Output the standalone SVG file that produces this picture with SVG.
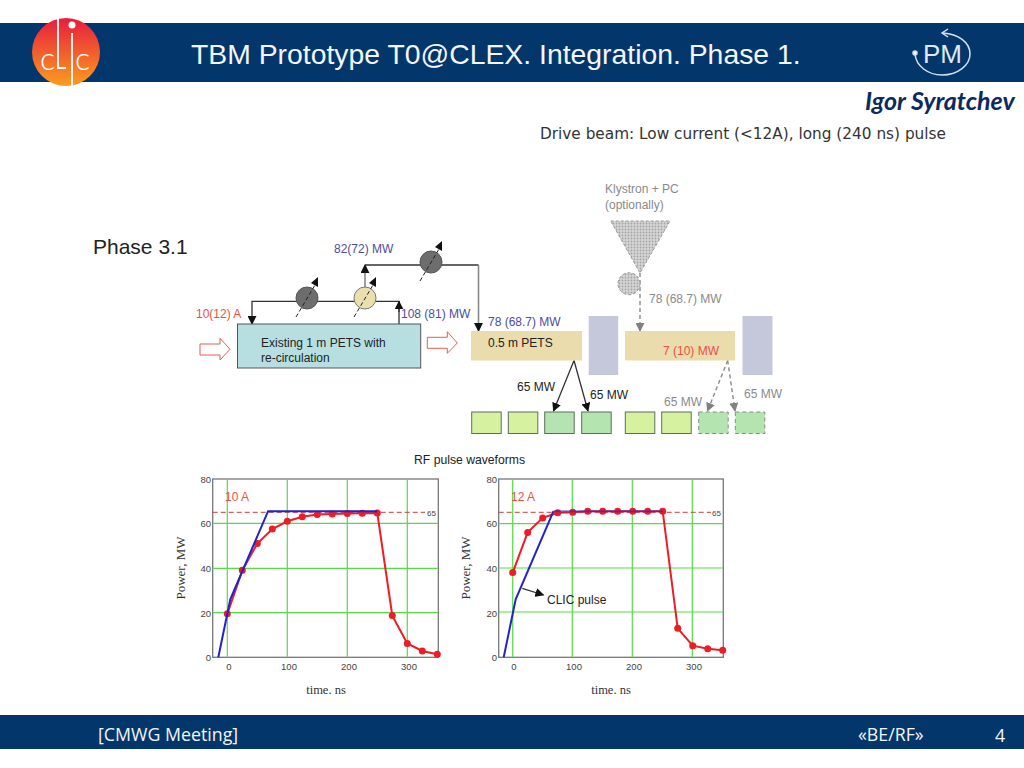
<svg xmlns="http://www.w3.org/2000/svg" xmlns:xlink="http://www.w3.org/1999/xlink" width="1024" height="768" viewBox="0 0 1024 768">
<style>
text{font-family:"Liberation Sans",Arial,sans-serif;font-size:12px}
.band{fill:#03376b}
.ft{font-family:"Open Sans",sans-serif;font-size:17.8px;fill:#f2f5f9}
.bl{fill:#4d4d9e}.rd{fill:#ee5040}.gr{fill:#8a8a8a}.bk{fill:#222}
.c{fill:none;stroke:#333;stroke-width:1.3}
.cg{fill:none;stroke:#8a8a8a;stroke-width:1.4;stroke-dasharray:4 3}
.cv{fill:none;stroke:#888;stroke-width:1.6}
.hollow{fill:#fff;stroke:#e0604f;stroke-width:1}
.sand{fill:#ebdcae}.rail{fill:#c5c8db}
.lg{fill:#d6f2a0;stroke:#5c6f5c;stroke-width:1}
.mg{fill:#b4e4b0;stroke:#5c6f5c;stroke-width:1}
.dg{fill:#b4e4b0;stroke:#8a8a8a;stroke-width:1;stroke-dasharray:4 3}
.gl{stroke:#55dd44;stroke-width:1.2;fill:none}
.frame{fill:#fff;stroke:#777;stroke-width:1.3}
.tick{font-size:9.5px;fill:#444}
.ser{font-family:"Liberation Serif",serif;fill:#333}
.ref{stroke:#d43a3a;stroke-width:1;stroke-dasharray:5 3;fill:none}
.rl{fill:none;stroke:#ee1c25;stroke-width:2}
.dots circle{fill:#ee1c25}
.blu{fill:none;stroke:#2323cc;stroke-width:2}
.sw{stroke:#222;stroke-width:1;stroke-dasharray:4 2.5;fill:none}
</style>
<defs>
<linearGradient id="lg1" x1="0" y1="0" x2="0" y2="1"><stop offset="0" stop-color="#e71d3e"/><stop offset="1" stop-color="#fb9d1e"/></linearGradient>
<pattern id="dots" width="3" height="3" patternUnits="userSpaceOnUse"><rect width="3" height="3" fill="#d6d6d6"/><circle cx="1.5" cy="1.5" r="0.9" fill="#a4a4a4"/></pattern>
<marker id="ab" viewBox="0 0 10 10" refX="9" refY="5" markerWidth="9" markerHeight="9" markerUnits="userSpaceOnUse" orient="auto"><path d="M0,0L10,5L0,10z" fill="#111"/></marker>
<marker id="ag" viewBox="0 0 10 10" refX="9" refY="5" markerWidth="9" markerHeight="9" markerUnits="userSpaceOnUse" orient="auto"><path d="M0,0L10,5L0,10z" fill="#808080"/></marker>
<g id="sw"><line class="sw" x1="-11" y1="19" x2="8" y2="-13"/><path d="M11,-21L4,-15L11,-11z" fill="#111"/></g>
</defs>
<rect width="1024" height="768" fill="#fff"/>

<g id="header">
<rect class="band" x="0" y="23" width="1024" height="59"/>
<text x="191" y="64" style="font-size:28.35px" fill="#f4f6fa">TBM Prototype T0@CLEX. Integration. Phase 1.</text>
</g>
<g id="clic-logo">
<circle cx="66" cy="52" r="34" fill="url(#lg1)"/>
<text x="40" y="70" style="font-size:32px;font-family:'Lato',sans-serif;font-weight:300" fill="#fff">c</text>
<text x="75" y="70" style="font-size:32px;font-family:'Lato',sans-serif;font-weight:300" fill="#fff">c</text>
<path d="M58,18V68H66M72,33V86" fill="none" stroke="#fff" stroke-width="1.8"/>
<circle cx="72" cy="25" r="3.5" fill="#fff"/>
</g>
<g id="pm-logo" fill="none" stroke="#d6e1ef" stroke-width="1.5">
<path d="M915,54C916,66 928,75 942,75C958,75 970,65 970,54C970,42 958,34 943,33"/>
<path d="M948,29L942,33L948,37"/>
<circle cx="915" cy="53" r="2" fill="#fff"/>
<text x="923" y="63" style="font-size:26px" fill="#dfe8f3" stroke="none">PM</text>
</g>
<text x="865" y="110" style="font-family:'Lato',sans-serif;font-size:25px;font-weight:700;font-style:italic" fill="#0b2a5e">Igor Syratchev</text>
<text x="540" y="139" style="font-family:'DejaVu Sans',sans-serif;font-size:15.3px" fill="#333">Drive beam: Low current (&lt;12A), long (240 ns) pulse</text>
<text x="93" y="254" style="font-size:21px" fill="#222">Phase 3.1</text>

<g id="connectors">
<path class="c" d="M399,324V301.3H252V324" marker-end="url(#ab)"/>
<path class="c" d="M399,312V301.3" marker-end="url(#ab)"/>
<path class="cv" d="M365,287V265" marker-end="url(#ab)"/>
<path class="c" d="M365,265H478.5"/>
<path class="cv" d="M478.5,265V331" marker-end="url(#ab)"/>
<path class="c" d="M574,360.5L553.5,411" marker-end="url(#ab)"/>
<path class="c" d="M574,360.5L588,411" marker-end="url(#ab)"/>
<path class="cg" d="M640,273V331" marker-end="url(#ag)"/>
<path class="cg" d="M727.7,360.5L707.5,411" marker-end="url(#ag)"/>
<path class="cg" d="M727.7,360.5L735,411" marker-end="url(#ag)"/>
<path class="hollow" d="M200,344H220V338.3L230,349.3L220,360V355H200z"/>
<path class="hollow" d="M427.3,337.3H447.3V331.7L457.3,343L447.3,353.3V348.3H427.3z"/>
</g>

<g id="pets-1m">
<rect x="237.5" y="324" width="183.2" height="44" fill="#b7dfe2" stroke="#555" stroke-width="1"/>
<text class="bk" x="261" y="347">Existing 1 m PETS with</text>
<text class="bk" x="261" y="362">re-circulation</text>
</g>
<g id="shifter-1"><circle cx="307" cy="298" r="11" fill="#6d6d6d" stroke="#555"/><use xlink:href="#sw" x="307" y="298"/></g>
<g id="shifter-2"><circle cx="365" cy="298" r="11" fill="#ecdfae" stroke="#777"/><use xlink:href="#sw" x="365" y="298"/></g>
<g id="shifter-3"><circle cx="431" cy="262" r="11" fill="#6d6d6d" stroke="#555"/><use xlink:href="#sw" x="431" y="262"/></g>

<g id="pets-05m"><rect class="sand" x="471" y="331" width="111" height="29.5"/><text class="bk" x="488" y="347">0.5 m PETS</text></g>
<g id="rail-1"><rect class="rail" x="588.7" y="316" width="29.5" height="59"/></g>
<g id="pets-2"><rect class="sand" x="625" y="331" width="110" height="29.5"/><text class="rd" x="663" y="355">7 (10) MW</text></g>
<g id="rail-2"><rect class="rail" x="742.5" y="316" width="30" height="59"/></g>
<g id="klystron">
<path d="M610.7,221H670L640,273z" fill="url(#dots)" stroke="#999" stroke-dasharray="3 2"/>
<circle cx="629" cy="283.7" r="11" fill="url(#dots)" stroke="#999" stroke-dasharray="3 2"/>
<text class="gr" x="605" y="193">Klystron + PC</text>
<text class="gr" x="605" y="209">(optionally)</text>
</g>
<g id="loads">
<rect class="lg" x="471.7" y="412" width="29.5" height="21.5"/>
<rect class="lg" x="508.3" y="412" width="29.5" height="21.5"/>
<rect class="mg" x="544.7" y="412" width="29.5" height="21.5"/>
<rect class="mg" x="581.7" y="412" width="29.5" height="21.5"/>
<rect class="lg" x="625.3" y="412" width="29.5" height="21.5"/>
<rect class="lg" x="661.7" y="412" width="29.5" height="21.5"/>
<rect class="dg" x="698.7" y="412" width="29.5" height="21.5"/>
<rect class="dg" x="735.3" y="412" width="29.5" height="21.5"/>
</g>
<g id="labels">
<text class="bl" x="334" y="253">82(72) MW</text>
<text class="rd" x="196" y="318">10(12) A</text>
<text class="bl" x="401" y="318">108 (81) MW</text>
<text class="bl" x="488" y="326">78 (68.7) MW</text>
<text class="gr" x="649" y="303">78 (68.7) MW</text>
<text class="bk" x="517" y="391">65 MW</text>
<text class="bk" x="590" y="399">65 MW</text>
<text class="gr" x="664" y="406">65 MW</text>
<text class="gr" x="744" y="398">65 MW</text>
<text class="bk" x="414" y="464" style="font-size:12.2px">RF pulse waveforms</text>
</g>

<g id="chart-10A">
<rect class="frame" x="212.7" y="479" width="225.6" height="178.3"/>
<path class="gl" d="M227.3,479V657.3M287.3,479V657.3M347.3,479V657.3M407.3,479V657.3M212.7,523.3H438.3M212.7,568.3H438.3M212.7,612.7H438.3"/>
<path class="ref" d="M212.7,512.3H425"/>
<text class="tick" x="427" y="516" style="font-size:8px">65</text>
<polyline class="rl" points="227.3,613.8 242.3,570.3 257.3,543.6 272.3,529.1 287.3,521.3 302.3,516.8 317.3,514.6 332.3,513.9 347.3,513.5 362.3,513.2 377.3,513 392.3,615.6 407.3,643.5 422.3,651 437.3,654.2"/>
<g class="dots"><circle cx="227.3" cy="613.8" r="3.5"/><circle cx="242.3" cy="570.3" r="3.5"/><circle cx="257.3" cy="543.6" r="3.5"/><circle cx="272.3" cy="529.1" r="3.5"/><circle cx="287.3" cy="521.3" r="3.5"/><circle cx="302.3" cy="516.8" r="3.5"/><circle cx="317.3" cy="514.6" r="3.5"/><circle cx="332.3" cy="513.9" r="3.5"/><circle cx="347.3" cy="513.5" r="3.5"/><circle cx="362.3" cy="513.2" r="3.5"/><circle cx="377.3" cy="513" r="3.5"/><circle cx="392.3" cy="615.6" r="3.5"/><circle cx="407.3" cy="643.5" r="3.5"/><circle cx="422.3" cy="651" r="3.5"/><circle cx="437.3" cy="654.2" r="3.5"/></g>
<polyline class="blu" points="218.3,657.3 230.3,599.3 268.1,511.2 377.3,511.2"/>
<text class="rd" x="225" y="501">10 A</text>
<g text-anchor="end"><text class="tick" x="211" y="483">80</text><text class="tick" x="211" y="527">60</text><text class="tick" x="211" y="572">40</text><text class="tick" x="211" y="617">20</text><text class="tick" x="211" y="661">0</text></g>
<g text-anchor="middle"><text class="tick" x="229" y="670">0</text><text class="tick" x="289" y="670">100</text><text class="tick" x="349" y="670">200</text><text class="tick" x="409" y="670">300</text></g>
<text class="ser" x="326" y="694" text-anchor="middle" style="font-size:12.5px">time. ns</text>
<text class="ser" transform="translate(185 568) rotate(-90)" text-anchor="middle" style="font-size:13px">Power, MW</text>
</g>

<g id="chart-12A">
<rect class="frame" x="498.7" y="479" width="224.6" height="178.3"/>
<path class="gl" d="M512.7,479V657.3M572.3,479V657.3M632.3,479V657.3M692.3,479V657.3M498.7,523.7H723.3M498.7,568H723.3M498.7,612H723.3"/>
<path class="ref" d="M498.7,512.3H711"/>
<text class="tick" x="712" y="516" style="font-size:8px">65</text>
<polyline class="rl" points="512.7,572.6 527.7,532.4 542.7,517.9 557.7,512.8 572.7,512.3 587.7,511.2 602.7,511.2 617.7,511.2 632.7,511.2 647.7,511.2 662.7,511.2 677.7,628.3 692.7,645.7 707.7,648.8 722.7,650.2"/>
<g class="dots"><circle cx="512.7" cy="572.6" r="3.5"/><circle cx="527.7" cy="532.4" r="3.5"/><circle cx="542.7" cy="517.9" r="3.5"/><circle cx="557.7" cy="512.8" r="3.5"/><circle cx="572.7" cy="512.3" r="3.5"/><circle cx="587.7" cy="511.2" r="3.5"/><circle cx="602.7" cy="511.2" r="3.5"/><circle cx="617.7" cy="511.2" r="3.5"/><circle cx="632.7" cy="511.2" r="3.5"/><circle cx="647.7" cy="511.2" r="3.5"/><circle cx="662.7" cy="511.2" r="3.5"/><circle cx="677.7" cy="628.3" r="3.5"/><circle cx="692.7" cy="645.7" r="3.5"/><circle cx="707.7" cy="648.8" r="3.5"/><circle cx="722.7" cy="650.2" r="3.5"/></g>
<polyline class="blu" points="503.7,657.3 515.7,599.3 553.5,511.2"/>
<polyline class="blu" stroke-opacity="0.55" points="553.5,511.2 662.7,511.2"/>
<text class="rd" x="511" y="501">12 A</text>
<g text-anchor="end"><text class="tick" x="497" y="483">80</text><text class="tick" x="497" y="527">60</text><text class="tick" x="497" y="572">40</text><text class="tick" x="497" y="617">20</text><text class="tick" x="497" y="661">0</text></g>
<g text-anchor="middle"><text class="tick" x="514" y="670">0</text><text class="tick" x="574" y="670">100</text><text class="tick" x="634" y="670">200</text><text class="tick" x="694" y="670">300</text></g>
<text class="ser" x="611" y="694" text-anchor="middle" style="font-size:12.5px">time. ns</text>
<text class="ser" transform="translate(470 568) rotate(-90)" text-anchor="middle" style="font-size:13px">Power, MW</text>
<path class="c" d="M522.3,588.3L543.5,595" marker-end="url(#ab)"/>
<text class="bk" x="547" y="604">CLIC pulse</text>
</g>

<g id="footer">
<rect class="band" x="0" y="715" width="1024" height="34"/>
<text class="ft" x="98" y="741">[CMWG Meeting]</text>
<text class="ft" x="858" y="741">«BE/RF»</text>
<text class="ft" x="995" y="742">4</text>
</g>
</svg>
